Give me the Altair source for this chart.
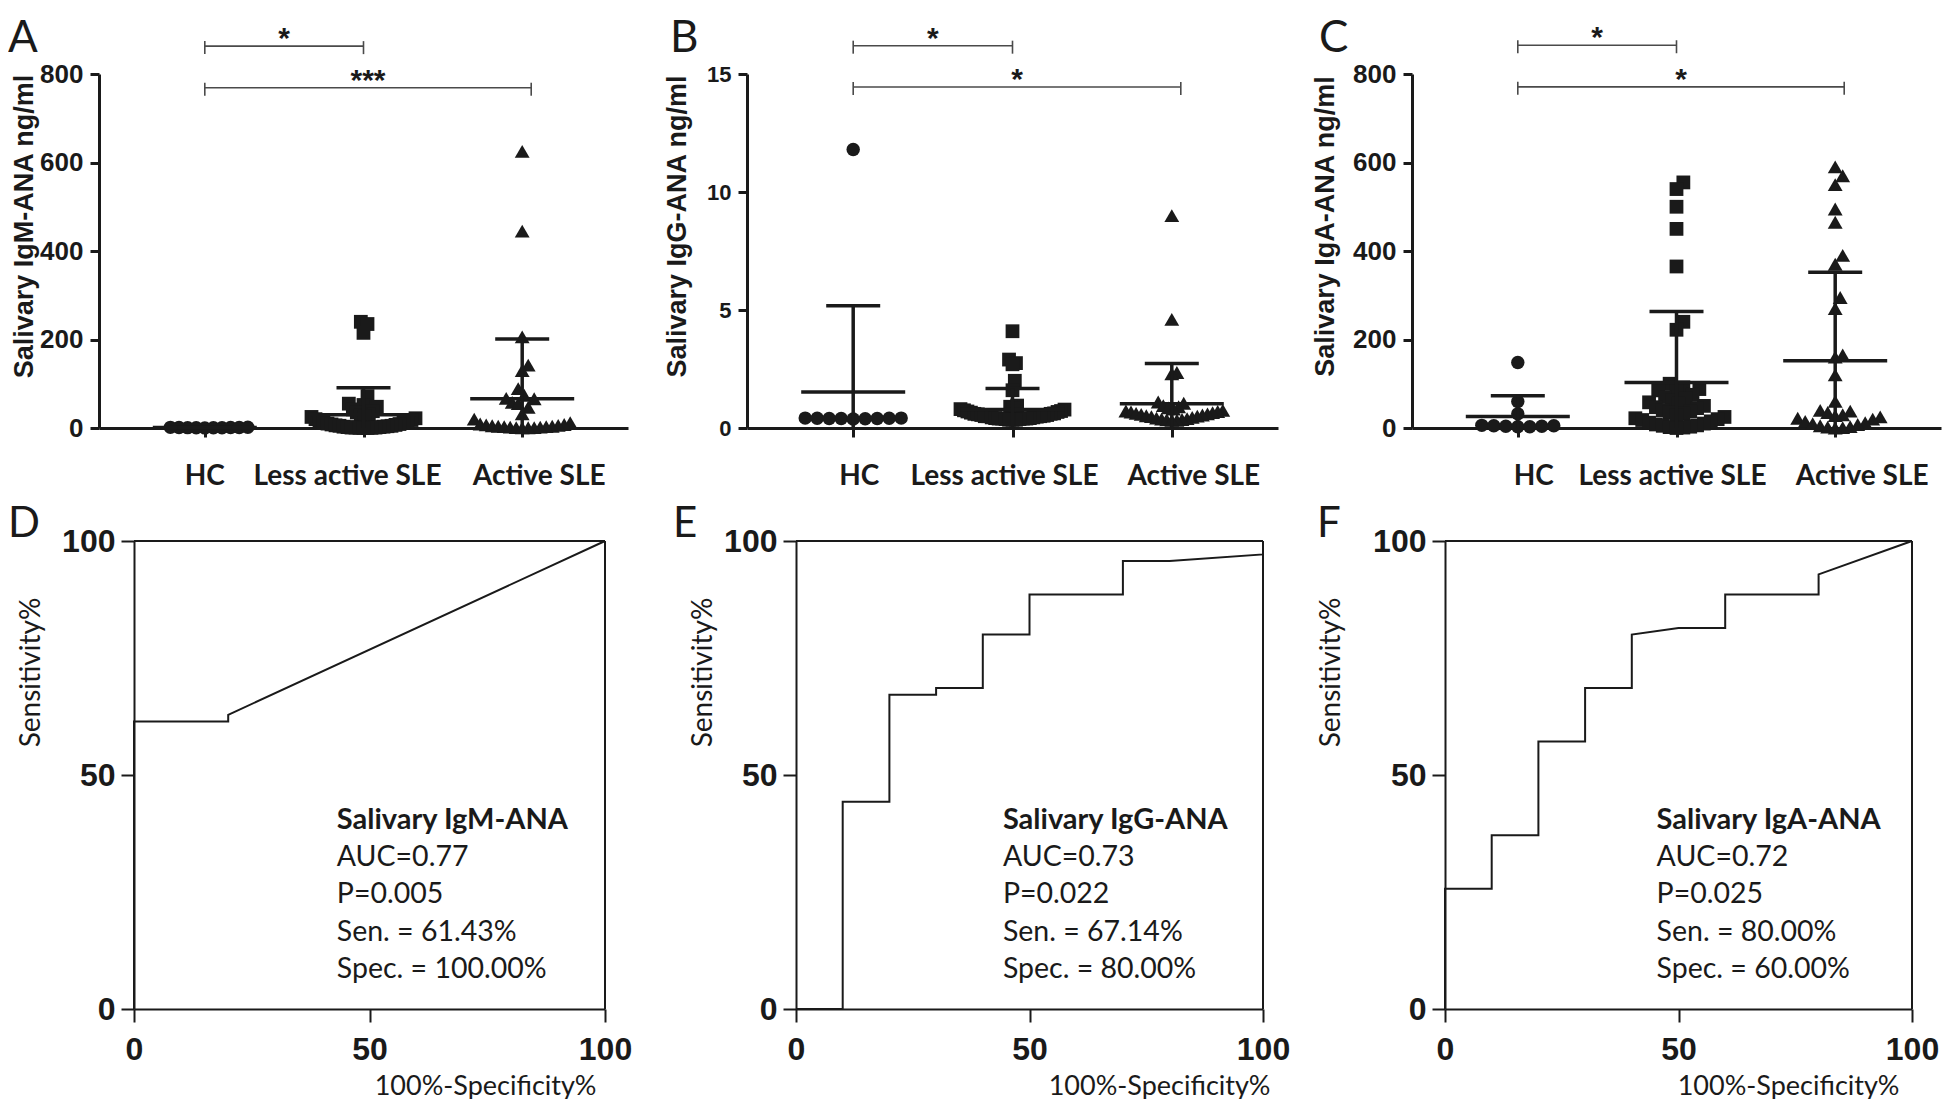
import altair as alt
import pandas as pd

INK = "#1a1a1a"
ARIAL = "Liberation Sans"
CALI = "Lato"

GROUPS = ["HC", "Less active SLE", "Active SLE"]
SHAPES = ["circle", "square", "triangle-up"]

# ---------------- Panel A: salivary IgM-ANA (ng/ml) ----------------
igm_hc = [0.2, 0.4, 0.5, 0.6, 0.8, 1.0, 1.1, 1.3, 1.5, 1.8]
igm_less = [240, 235, 215, 72, 55, 52, 48, 42, 38, 35, 30, 28, 26, 25, 22, 20, 18, 16,
            15, 14, 12, 10, 9, 8, 7, 6, 5, 5, 4, 3, 3, 2, 2, 1, 1, 1, 0.5, 0.5, 0.2, 0.1]
igm_active = [625, 445, 206, 142, 130, 89, 74, 67, 66, 58, 55, 47, 32, 20, 12,
              9, 8, 7, 6, 5, 4, 4, 3, 3, 2, 2, 1, 1, 0.5, 0.2]
igm_mean = [0.9, 30, 66]
igm_sd = [0.5, 61, 135]
igm_brackets = [("HC", "Less active SLE", "*", 863), ("HC", "Active SLE", "***", 769)]

# ---------------- Panel B: salivary IgG-ANA (ng/ml) ----------------
igg_hc = [11.8, 0.42, 0.40, 0.41, 0.39, 0.40, 0.42, 0.38, 0.41, 0.40]
igg_less = [4.1, 2.9, 2.75, 2.7, 2.0, 1.6, 0.95, 0.9, 0.85, 0.8, 0.78, 0.75, 0.72, 0.7,
            0.68, 0.65, 0.62, 0.6, 0.6, 0.58, 0.55, 0.55, 0.52, 0.5, 0.5, 0.5, 0.48, 0.45,
            0.45, 0.42, 0.42, 0.4, 0.4, 0.4, 0.4, 0.38, 0.38, 0.35, 0.35, 0.35]
igg_active = [9.0, 4.6, 2.35, 2.3, 1.1, 1.05, 0.95, 0.9, 0.85, 0.8, 0.75, 0.72, 0.7, 0.68,
              0.65, 0.62, 0.6, 0.58, 0.55, 0.52, 0.5, 0.48, 0.45, 0.42, 0.4, 0.38, 0.36,
              0.35, 0.33, 0.32]
igg_mean = [1.53, 0.78, 1.03]
igg_sd = [3.65, 0.89, 1.70]
igg_brackets = [("HC", "Less active SLE", "*", 16.2), ("HC", "Active SLE", "*", 14.45)]

# ---------------- Panel C: salivary IgA-ANA (ng/ml) ----------------
iga_hc = [148, 60, 32, 6, 5, 5, 4, 4, 3, 3]
iga_less = [555, 540, 500, 450, 365, 240, 222, 100, 92, 88, 85, 83, 75, 70, 66, 62, 58,
            55, 50, 47, 45, 40, 38, 35, 32, 28, 25, 22, 20, 18, 15, 12, 10, 8, 6, 5, 3,
            2, 1, 0]
iga_active = [590, 570, 550, 495, 465, 390, 370, 295, 270, 165, 160, 120, 60, 40, 38,
              35, 30, 28, 25, 22, 20, 15, 12, 10, 8, 5, 3, 2, 1, 0]
iga_mean = [26, 103, 152]
iga_sd = [47, 160, 200]
iga_brackets = [("HC", "Less active SLE", "*", 865), ("HC", "Active SLE", "*", 771)]

# ---------------- ROC curves (D, E, F) ----------------
roc_igm_x = [0, 0, 20, 20, 100]
roc_igm_y = [0, 61.43, 61.43, 62.86, 100]
roc_igg_x = [0, 10, 10, 20, 20, 30, 30, 40, 40, 50, 50, 70, 70, 80, 100, 100]
roc_igg_y = [0, 0, 44.29, 44.29, 67.14, 67.14, 68.57, 68.57, 80.0, 80.0, 88.57, 88.57,
             95.71, 95.71, 97.14, 100]
roc_iga_x = [0, 0, 10, 10, 20, 20, 30, 30, 40, 40, 50, 60, 60, 80, 80, 100]
roc_iga_y = [0, 25.71, 25.71, 37.14, 37.14, 57.14, 57.14, 68.57, 68.57, 80.0, 81.43,
             81.43, 88.57, 88.57, 92.86, 100]

roc_titles = ["Salivary IgM-ANA", "Salivary IgG-ANA", "Salivary IgA-ANA"]
roc_stats = [
    ["AUC=0.77", "P=0.005", "Sen. = 61.43%", "Spec. = 100.00%"],
    ["AUC=0.73", "P=0.022", "Sen. = 67.14%", "Spec. = 80.00%"],
    ["AUC=0.72", "P=0.025", "Sen. = 80.00%", "Spec. = 60.00%"],
]

# ---------------- layout (page pixels; the plot area starts at the 8px page margin) ----
M = 8
PW, PH = 1936, 1090
TOP_Y0, TOP_Y1 = 74 - M, 428 - M
BOT_Y0, BOT_Y1 = 541 - M, 1009 - M


def swarm(vals, ppy, d=12.0, limit=48.0):
    """Simple beeswarm: horizontal pixel offsets so markers do not collide."""
    order = sorted(range(len(vals)), key=lambda i: vals[i])
    step = d / 3.0
    cands = [0.0]
    for j in range(1, 400):
        cands += [j * step, -j * step]
    placed = []
    offs = [0.0] * len(vals)
    for i in order:
        y = vals[i] * ppy
        chosen = 0.0
        for c in cands:
            if all((c - px) ** 2 + (y - py) ** 2 >= d * d for px, py in placed):
                chosen = c
                break
        placed.append((chosen, y))
        offs[i] = chosen
    m = max(abs(o) for o in offs)
    if m > limit:
        offs = [o * limit / m for o in offs]
    return offs


def top_panel(letter, ytitle, values, means, sds, ymax, yticks, brackets,
              x0_abs, axis_w, title_x, label_size, cat_nudge_px, letter_abs, limits):
    x0 = x0_abs - M
    H = TOP_Y1 - TOP_Y0
    ppy = H / ymax
    ppx = axis_w / (10.0 / 3.0)
    xs = alt.Scale(domain=[1 / 3, 11 / 3], range=[x0, x0 + axis_w], nice=False, zero=False)
    ys = alt.Scale(domain=[0, ymax], range=[TOP_Y1, TOP_Y0], nice=False, zero=True)
    xaxis = alt.Axis(values=[1, 2, 3], labels=False, title="", tickSize=9, tickWidth=3,
                     domainWidth=3, grid=False, orient="bottom", offset=-(PH - TOP_Y1))
    yaxis = alt.Axis(values=yticks, title=ytitle, titleAngle=270, titleX=title_x,
                     titleY=226 - M, titleAlign="center", titleBaseline="alphabetic",
                     titleFont=ARIAL, titleFontSize=27, titleFontWeight="bold",
                     labelFont=ARIAL, labelFontSize=label_size, labelFontWeight="bold",
                     labelPadding=7, tickSize=9, tickWidth=3, domainWidth=3,
                     labelFlush=False, grid=False, orient="left", offset=-x0)
    X = alt.X("x:Q", scale=xs, axis=xaxis)
    Y = alt.Y("y:Q", scale=ys, axis=yaxis)

    layers = []
    sizes = [180, 190, 220]
    for gi, (g, arr) in enumerate(zip(GROUPS, values), start=1):
        offs = swarm(arr, ppy, d=12.0, limit=limits[gi - 1])
        df = pd.DataFrame({"x": [gi + o / ppx for o in offs], "y": arr})
        layers.append(
            alt.Chart(df).mark_point(filled=True, opacity=1, shape=SHAPES[gi - 1],
                                     size=sizes[gi - 1], color=INK, strokeWidth=0)
            .encode(x=X, y=Y)
        )

    mean_half = 52 / ppx
    cap_half = 27 / ppx
    segs = []
    for gi, (m, s) in enumerate(zip(means, sds), start=1):
        segs.append(dict(x=gi - mean_half, x2=gi + mean_half, y=m, y2=m, w=3.5, c=INK))
        segs.append(dict(x=gi - cap_half, x2=gi + cap_half, y=m + s, y2=m + s, w=3.5, c=INK))
        segs.append(dict(x=gi, x2=gi, y=max(0, m - s), y2=m + s, w=3.5, c=INK))
    stars = []
    for g1, g2, lab, lvl in brackets:
        a = GROUPS.index(g1) + 1
        b = GROUPS.index(g2) + 1 + (9 / ppx if g2 == "Active SLE" else 0)
        up, down = 5 / ppy, 8 / ppy
        segs.append(dict(x=a, x2=b, y=lvl, y2=lvl, w=1.6, c="#4a4a4a"))
        segs.append(dict(x=a, x2=a, y=lvl + up, y2=lvl - down, w=1.6, c="#4a4a4a"))
        segs.append(dict(x=b, x2=b, y=lvl + up, y2=lvl - down, w=1.6, c="#4a4a4a"))
        stars.append(dict(x=(a + b) / 2, y=lvl, t=lab))
    layers.append(
        alt.Chart(pd.DataFrame(segs)).mark_rule(strokeCap="butt").encode(
            x=X, x2=alt.X2("x2"), y=Y, y2=alt.Y2("y2"),
            strokeWidth=alt.StrokeWidth("w:Q", scale=None),
            color=alt.Color("c:N", scale=None),
        )
    )
    layers.append(
        alt.Chart(pd.DataFrame(stars)).mark_text(
            font=ARIAL, fontSize=30, fontWeight="bold", baseline="alphabetic", dy=2,
            color=INK).encode(x=X, y=Y, text="t:N")
    )
    cat_df = pd.DataFrame({"x": [i + 1 + n / ppx for i, n in enumerate(cat_nudge_px)],
                           "t": GROUPS})
    layers.append(
        alt.Chart(cat_df).mark_text(font=CALI, fontSize=28, fontWeight="bold",
                                    baseline="alphabetic", color=INK)
        .encode(x=X, y=alt.value(TOP_Y1 + 57), text="t:N")
    )
    layers.append(
        alt.Chart(pd.DataFrame({"t": [letter]})).mark_text(
            font=CALI, fontSize=44, align="left", baseline="alphabetic", color=INK)
        .encode(x=alt.value(letter_abs - M), y=alt.value(52 - M), text="t:N")
    )
    return alt.layer(*layers)


def roc_panel(letter, rx, ry, title, stats, x0_abs, axis_w, ytitle_x, xtitle_right_abs,
              ann_x, letter_abs):
    x0 = x0_abs - M
    xs = alt.Scale(domain=[0, 100], range=[x0, x0 + axis_w], nice=False, zero=False)
    ys = alt.Scale(domain=[0, 100], range=[BOT_Y1, BOT_Y0], nice=False, zero=False)
    xaxis = alt.Axis(values=[0, 50, 100], title="100%-Specificity%",
                     titleX=xtitle_right_abs - M, titleY=85, titleAlign="right",
                     titleBaseline="alphabetic", titleFont=CALI, titleFontSize=27,
                     titleFontWeight="normal", labelFont=ARIAL, labelFontSize=32,
                     labelFontWeight="bold", labelPadding=12, tickSize=13, tickWidth=2,
                     domainWidth=2, labelFlush=False, grid=False, orient="bottom",
                     offset=-(PH - BOT_Y1))
    yaxis = alt.Axis(values=[0, 50, 100], title="Sensitivity%", titleAngle=270,
                     titleX=ytitle_x, titleY=672 - M, titleAlign="center",
                     titleBaseline="middle", titleFont=CALI, titleFontSize=28,
                     titleFontWeight="normal", labelFont=ARIAL, labelFontSize=32,
                     labelFontWeight="bold", labelPadding=6, tickSize=13, tickWidth=2,
                     domainWidth=2, labelFlush=False, grid=False, orient="left",
                     offset=-x0)
    X = alt.X("x:Q", scale=xs, axis=xaxis)
    Y = alt.Y("y:Q", scale=ys, axis=yaxis)

    curve = pd.DataFrame({"x": rx, "y": ry, "i": list(range(len(rx)))})
    line = alt.Chart(curve).mark_line(color=INK, strokeWidth=2).encode(
        x=X, y=Y, order="i:Q")
    frame = pd.DataFrame({"x": [0, 100], "x2": [100, 100], "y": [100, 0], "y2": [100, 100]})
    box = alt.Chart(frame).mark_rule(color=INK, strokeWidth=2).encode(
        x=X, x2=alt.X2("x2"), y=Y, y2=alt.Y2("y2"))
    ann_t = alt.Chart(pd.DataFrame({"x": [ann_x], "y": [38.46], "t": [title]})).mark_text(
        font=CALI, fontSize=29, fontWeight="bold", align="left", baseline="alphabetic",
        color=INK).encode(x=X, y=Y, text="t:N")
    ann_b = alt.Chart(pd.DataFrame({"x": [ann_x], "y": [30.56], "t": ["\n".join(stats)]})).mark_text(
        font=CALI, fontSize=28.5, align="left", baseline="alphabetic", lineBreak="\n",
        lineHeight=37.5, color=INK).encode(x=X, y=Y, text="t:N")
    let = alt.Chart(pd.DataFrame({"t": [letter]})).mark_text(
        font=CALI, fontSize=42, align="left", baseline="alphabetic", color=INK
    ).encode(x=alt.value(letter_abs - M), y=alt.value(537 - M), text="t:N")
    return alt.layer(line, box, ann_t, ann_b, let)


A = top_panel("A", "Salivary IgM-ANA ng/ml", [igm_hc, igm_less, igm_active], igm_mean,
              igm_sd, 800, [0, 200, 400, 600, 800], igm_brackets, 99, 529, -66.5, 26,
              [0, -16, 17], 8, [43, 52, 48])
B = top_panel("B", "Salivary IgG-ANA ng/ml", [igg_hc, igg_less, igg_active], igg_mean,
              igg_sd, 15, [0, 5, 10, 15], igg_brackets, 747, 531, -62, 22,
              [6, -8, 22], 670, [49, 52, 51])
C = top_panel("C", "Salivary IgA-ANA ng/ml", [iga_hc, iga_less, iga_active], iga_mean,
              iga_sd, 800, [0, 200, 400, 600, 800], iga_brackets, 1412, 529, -79, 26,
              [16, -4, 27], 1319, [37, 48, 45])

D = roc_panel("D", roc_igm_x, roc_igm_y, roc_titles[0], roc_stats[0], 134, 471,
              -103, 596, 43.05, 8)
E = roc_panel("E", roc_igg_x, roc_igg_y, roc_titles[1], roc_stats[1], 796, 467,
              -93, 1270, 44.3, 673)
F = roc_panel("F", roc_iga_x, roc_iga_y, roc_titles[2], roc_stats[2], 1445, 467,
              -114, 1899, 45.3, 1317)

chart = alt.layer(A, B, C, D, E, F).resolve_scale(
    x="independent", y="independent"
).resolve_axis(
    x="independent", y="independent"
).properties(
    width=PW, height=PH,
    padding={"left": 0, "top": 0, "right": 0, "bottom": 0},
).configure_view(
    stroke="transparent"
).configure_axis(
    grid=False, domainColor=INK, tickColor=INK, labelColor=INK, titleColor=INK
)

chart.save("out.html", embed_options={"renderer": "svg", "actions": False})
